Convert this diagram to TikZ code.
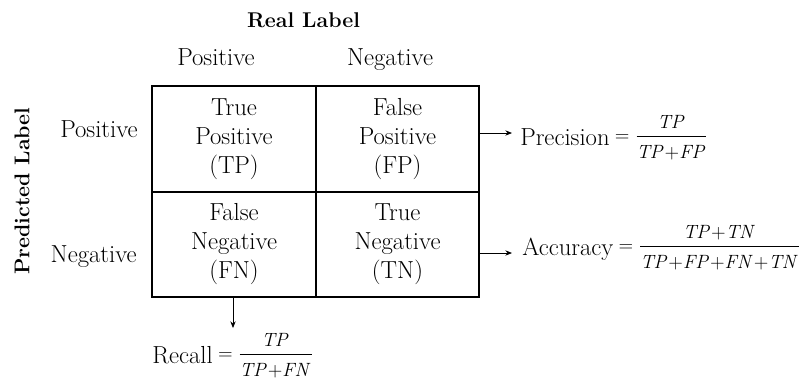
\documentclass[tikz,border=0pt]{standalone}
\usepackage{amsmath}
\usetikzlibrary{arrows.meta}

\tikzset{
  txt/.style={font=\fontsize{18.5}{21.75}\selectfont, inner sep=0pt, align=center},
  head/.style={txt, font=\fontsize{16}{21.75}\selectfont\bfseries},
  cell/.style={txt, draw, line width=1.3pt, minimum width=122.5pt, minimum height=79pt},
  arr/.style={-{Stealth[length=5pt, width=4pt]}, line width=0.6pt}
}

% fraction of a metric: "= num / den", raised to the text's middle
\newcommand\metricfrac[2]{{\fontsize{15.3}{18}\selectfont
  \raisebox{3pt}{${}=\dfrac{#1}{\rule{0pt}{15pt}#2}$}}}
\newcommand\pl{{+}}

\begin{document}
\begin{tikzpicture}[x=0.75pt, y=-0.75pt]
\useasboundingbox (0,0) rectangle (803,383);

\def\xa{234};
\def\xb{397.5};
\def\ya{139};
\def\yb{244.5};

% headers
\node[head, anchor=base] (real) at (303.5, 27) {Real Label};
\node[head, rotate=90] (pred) at (22, 191) {Predicted Label};
\node[txt, anchor=base] (colpos) at (216, 65) {Positive};
\node[txt, anchor=base] (colneg) at (390, 65) {Negative};
\node[txt, anchor=base east] (rowpos) at (138, 137) {Positive};
\node[txt, anchor=base east] (rowneg) at (137, 262) {Negative};

% matrix
\node[cell] (tp) at (\xa, \ya) {True\\Positive\\(TP)};
\node[cell] (fp) at (\xb, \ya) {False\\Positive\\(FP)};
\node[cell] (fn) at (\xa, \yb) {False\\Negative\\(FN)};
\node[cell] (tn) at (\xb, \yb) {True\\Negative\\(TN)};

% metrics
\node[txt, anchor=base west] (prec) at (520, 145)
  {Precision\metricfrac{\mathit{TP}}{\mathit{TP}\pl\mathit{FP}}};
\node[txt, anchor=base west] (acc) at (522, 255)
  {Accuracy\metricfrac{\mathit{TP}\pl\mathit{TN}}{\mathit{TP}\pl\mathit{FP}\pl\mathit{FN}\pl\mathit{TN}}};
\node[txt, anchor=base west] (rec) at (152, 363)
  {Recall\metricfrac{\mathit{TP}}{\mathit{TP}\pl\mathit{FN}}};

\coordinate (pa) at (512, 133);
\coordinate (aa) at (512, 253);
\coordinate (ra) at (233, 328);

\draw[arr] (pa -| fp.east) -- (pa);
\draw[arr] (aa -| tn.east) -- (aa);
\draw[arr] (ra |- fn.south) -- (ra);

\end{tikzpicture}
\end{document}
